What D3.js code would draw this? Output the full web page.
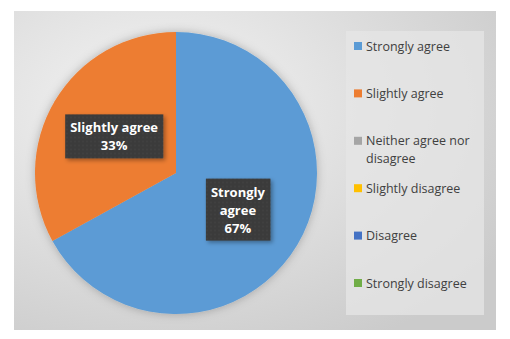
<!DOCTYPE html>
<html>
<head>
<meta charset="utf-8">
<script src="https://cdn.jsdelivr.net/npm/d3@7"></script>
<style>
  body { margin: 0; background: #fff; }
  svg { display: block; font-family: "Open Sans", "Liberation Sans", sans-serif; }
</style>
</head>
<body>
<svg id="chart" width="510" height="339"></svg>
<script>
// categories and their shares (percent)
var categories = ["Strongly agree", "Slightly agree", "Neither agree nor disagree",
    "Slightly disagree", "Disagree", "Strongly disagree"]
var values = [67, 33, 0, 0, 0, 0]
var colorList = ["#5b9bd5", "#ed7d31", "#a5a5a5", "#ffc000", "#4472c4", "#70ad47"]

var svg = d3.select("#chart")
var defs = svg.append("defs")

var bg = defs.append("radialGradient").attr("id", "bg")
    .attr("cx", "30%").attr("cy", "30%").attr("r", "85%")
bg.append("stop").attr("offset", "0%").attr("stop-color", "#f4f4f4")
bg.append("stop").attr("offset", "100%").attr("stop-color", "#cbcbcb")

var pat = defs.append("pattern").attr("id", "dots")
    .attr("width", 4).attr("height", 4).attr("patternUnits", "userSpaceOnUse")
pat.append("rect").attr("width", 4).attr("height", 4).attr("fill", "#3a3a3a")
pat.append("circle").attr("cx", 1).attr("cy", 1).attr("r", 0.7).attr("fill", "#4e4e4e")

var shadow = defs.append("filter").attr("id", "shadow")
    .attr("x", "-20%").attr("y", "-20%").attr("width", "140%").attr("height", "140%")
shadow.append("feDropShadow").attr("dx", 2).attr("dy", 2).attr("stdDeviation", 2)
    .attr("flood-color", "#000").attr("flood-opacity", 0.35)

var pieShadow = defs.append("filter").attr("id", "pieShadow")
    .attr("x", "-20%").attr("y", "-20%").attr("width", "140%").attr("height", "140%")
pieShadow.append("feDropShadow").attr("dx", 0).attr("dy", 0).attr("stdDeviation", 5)
    .attr("flood-color", "#000").attr("flood-opacity", 0.25)

// chart area
svg.append("rect").attr("x", 14).attr("y", 11).attr("width", 482).attr("height", 319)
    .attr("fill", "url(#bg)")

var colors = d3.scaleOrdinal().domain(categories).range(colorList)
var data = categories.map(function(c, i) { return { name: c, value: values[i] } })

var cx = 176, cy = 173, radius = 141
var pie = d3.pie().sort(null).value(function(d) { return d.value })
var arc = d3.arc().innerRadius(0).outerRadius(radius)
var pieData = pie(data)

var g = svg.append("g").attr("transform", "translate(" + cx + "," + cy + ")")
g.append("g").attr("filter", "url(#pieShadow)")
    .selectAll("path")
    .data(pieData.filter(function(d) { return d.data.value > 0 }))
    .enter().append("path")
    .attr("d", arc)
    .attr("fill", function(d) { return colors(d.data.name) })

// data labels
var labelLines = {
    "Strongly agree": ["Strongly", "agree"],
    "Slightly agree": ["Slightly agree"]
}
var labelArc = d3.arc().innerRadius(radius * 0.51).outerRadius(radius * 0.51)
var lineH = 18
pieData.filter(function(d) { return d.data.value > 0 }).forEach(function(d) {
    var lines = labelLines[d.data.name].concat([d.data.value + "%"])
    var c = labelArc.centroid(d)
    var lg = g.append("g").attr("transform", "translate(" + c[0] + "," + c[1] + ")")
    var txt = lg.append("text")
        .attr("text-anchor", "middle")
        .attr("fill", "#fff")
        .attr("font-weight", 700)
        .attr("font-size", "13px")
    lines.forEach(function(l, i) {
        txt.append("tspan").attr("x", 0)
            .attr("y", (i - (lines.length - 1) / 2) * lineH)
            .attr("dominant-baseline", "central")
            .text(l)
    })
    var bb = txt.node().getBBox()
    lg.insert("rect", "text")
        .attr("x", bb.x - 5).attr("y", bb.y - 4)
        .attr("width", bb.width + 10).attr("height", bb.height + 8)
        .attr("fill", "url(#dots)")
        .attr("filter", "url(#shadow)")
})

// legend
var legend = svg.append("g")
legend.append("rect").attr("x", 346).attr("y", 31).attr("width", 138).attr("height", 284)
    .attr("fill", "#e6e6e6").attr("opacity", 0.75)

var rowY = d3.scalePoint().domain(categories).range([46, 283])
var legendLines = {
    "Neither agree nor disagree": ["Neither agree nor", "disagree"]
}
categories.forEach(function(c) {
    var y = rowY(c)
    var row = legend.append("g").attr("transform", "translate(354," + y + ")")
    row.append("rect").attr("x", 0).attr("y", -4).attr("width", 8).attr("height", 8)
        .attr("fill", colors(c))
    var lines = legendLines[c] || [c]
    var t = row.append("text").attr("fill", "#404040").attr("font-size", "12.5px")
    lines.forEach(function(l, i) {
        t.append("tspan").attr("x", 12).attr("y", i * 18)
            .attr("dominant-baseline", "central").text(l)
    })
})
</script>
</body>
</html>
